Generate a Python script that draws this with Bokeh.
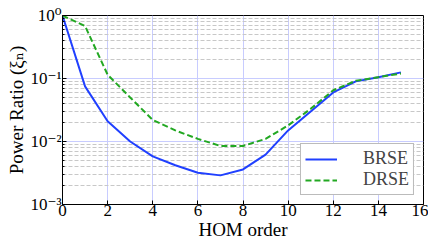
from bokeh.plotting import figure
from bokeh.models import FixedTicker, CustomJSTickFormatter, Range1d, Legend, LegendItem
from bokeh.embed import file_html
from bokeh.resources import INLINE

hom_order = [0, 1, 2, 3, 4, 5, 6, 7, 8, 9, 10, 11, 12, 13, 14, 15]
brse = [1.0, 0.075, 0.021, 0.0100, 0.0058, 0.0042, 0.0032, 0.0029, 0.0036, 0.0062,
        0.015, 0.030, 0.060, 0.090, 0.105, 0.125]
drse = [1.0, 0.68, 0.115, 0.050, 0.022, 0.015, 0.011, 0.0085, 0.0085, 0.011,
        0.018, 0.033, 0.065, 0.092, 0.105, 0.120]
x_ticks = [0, 2, 4, 6, 8, 10, 12, 14, 16]
y_ticks = [1e-3, 1e-2, 1e-1, 1e0]
y_minor = [k * 10.0 ** e for e in (-3, -2, -1) for k in range(2, 10)]

FONT = "'Liberation Serif', 'DejaVu Serif', serif"

p = figure(width=428, height=242, y_axis_type="log", output_backend="svg",
           toolbar_location=None, x_range=Range1d(0, 16), y_range=Range1d(1e-3, 1.0),
           min_border_left=62, min_border_right=5, min_border_top=15, min_border_bottom=37)

l1 = p.line(hom_order, brse, line_color="#2040ff", line_width=2)
l2 = p.line(hom_order, drse, line_color="#22a822", line_width=2, line_dash="6 3")

p.xaxis.ticker = FixedTicker(ticks=x_ticks)
p.yaxis.ticker = FixedTicker(ticks=y_ticks, minor_ticks=y_minor)
p.yaxis.formatter = CustomJSTickFormatter(code="""
const e = Math.round(Math.log10(tick));
const sup = {'-':'\u207b','0':'\u2070','1':'\u00b9','2':'\u00b2','3':'\u00b3'};
return '10' + String(e).split('').map(c => sup[c]).join('');
""")

for ax in (p.xaxis[0], p.yaxis[0]):
    ax.major_label_text_font = FONT
    ax.major_label_text_font_size = "17px"
    ax.major_label_text_color = "black"
    ax.axis_label_text_font = FONT
    ax.axis_label_text_font_size = "19px"
    ax.axis_label_text_font_style = "normal"
    ax.axis_label_text_color = "black"
    ax.axis_line_color = "black"
    ax.major_tick_out = 0
    ax.major_tick_in = 4
    ax.minor_tick_out = 0
    ax.minor_tick_in = 2
    ax.major_label_standoff = 1
    ax.axis_label_standoff = 0
p.xaxis.major_label_standoff = 0

p.xaxis.axis_label = "HOM order"
p.yaxis.axis_label = "Power Ratio (\u03be\u2099)"

p.xgrid.grid_line_color = "#c8ccff"
p.ygrid.grid_line_color = "#c8ccff"
p.ygrid.minor_grid_line_color = "#c8c8c8"
p.ygrid.minor_grid_line_dash = "4 2"

p.outline_line_color = "black"
p.outline_line_alpha = 1
p.background_fill_color = "white"

legend = Legend(items=[LegendItem(label="BRSE", renderers=[l1]),
                       LegendItem(label="DRSE", renderers=[l2])],
                location="bottom_right")
legend.label_text_font = FONT
legend.label_text_font_size = "18px"
legend.label_height = 18
legend.glyph_height = 18
legend.border_line_color = "#777777"
legend.border_line_width = 1.5
legend.glyph_width = 32
legend.label_standoff = 26
legend.padding = 4
legend.spacing = 0
legend.margin = 9
legend.background_fill_alpha = 1
p.add_layout(legend)

open("out.html", "w").write(file_html(p, INLINE))
